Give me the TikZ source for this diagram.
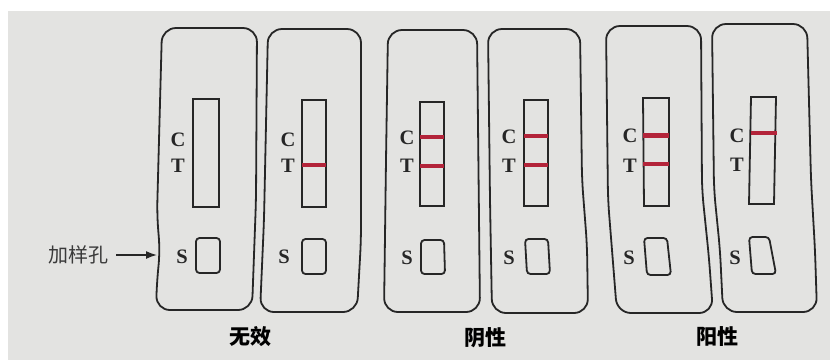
\documentclass[tikz,border=0pt]{standalone}
\usepackage{fontspec}
\setmainfont{Liberation Serif}
\newfontfamily\cjk{Noto Sans CJK SC}
\usetikzlibrary{arrows.meta}
\definecolor{paper}{HTML}{E3E3E1}
\definecolor{ink}{HTML}{262626}
\definecolor{band}{HTML}{B3243A}
\definecolor{softink}{HTML}{3A3A3A}
\begin{document}
\begin{tikzpicture}[x=1pt,y=-1pt,
  case/.style={draw=ink, line width=1.8pt, rounded corners=14pt},
  win/.style={draw=ink, line width=1.8pt},
  hole/.style={draw=ink, line width=1.8pt, rounded corners=3.5pt},
  redband/.style={draw=band, line width=4pt},
  letter/.style={font=\bfseries\fontsize{20.5}{20.5}\selectfont, text=ink, inner sep=0pt},
  grp/.style={font=\cjk\bfseries\fontsize{21}{21}\selectfont, text=black, inner sep=0pt},
  note/.style={font=\cjk\fontsize{20}{20}\selectfont, text=softink, inner sep=0pt},
  pointer/.style={draw=ink, line width=1.5pt, -{Latex[length=11pt,width=8pt]}}]
\fill[white] (0,0) rectangle (830,360);
\fill[paper] (8,11) rectangle (830,360);
\useasboundingbox (0,0) rectangle (830,360);

% cassette outlines
\draw[case] (162,28) -- (257,28) -- (256,200) -- (252,310) -- (156,310) -- (157,280) -- (160,252) -- (157,215) -- cycle;
\draw[case] (268,29) -- (361,29) -- (361,240) -- (357,312) -- (260,312) -- (264,220) -- cycle;
\draw[case] (388,30) -- (477,30) -- (480,312) -- (384,312) -- (386,160) -- cycle;
\draw[case] (488,29) -- (580,29) -- (582,180) -- (587,245) -- (588,313) -- (492,313) -- (490,200) -- cycle;
\draw[case] (606,26) -- (701,26) -- (702,190) -- (709,258) -- (713,313) -- (617,313) -- (612,250) -- (608,200) -- cycle;
\draw[case] (712,24) -- (807,24) -- (811,180) -- (815,250) -- (817,312) -- (723,312) -- (720,250) -- (714,190) -- cycle;

% result windows
\draw[win] (193,99) rectangle (219,207);
\draw[win] (302,100) rectangle (326,207);
\draw[win] (420,102) rectangle (444,206);
\draw[win] (524,100) rectangle (548,206);
\draw[win] (643,98) -- (669,98) -- (669,206) -- (644,206) -- cycle;
\draw[win] (751,97) -- (776,97) -- (774,204) -- (749,204) -- cycle;

% red bands
\draw[redband] (302,165) -- (326,165);
\draw[redband, line width=3.5pt] (420,137) -- (444,137);
\draw[redband] (420,166) -- (444,166);
\draw[redband, line width=3.5pt] (524,136) -- (548,136);
\draw[redband] (524,165) -- (548,165);
\draw[redband, line width=5pt] (643,135) -- (669,135);
\draw[redband] (643,164) -- (669,164);
\draw[redband, line width=4.5pt] (751,133) -- (777,133);

% sample holes
\draw[hole] (196,238) -- (220,238) -- (220,273) -- (196,273) -- cycle;
\draw[hole] (302,239) -- (326,239) -- (326,274) -- (302,274) -- cycle;
\draw[hole] (421,240) -- (444,240) -- (445,274) -- (421,274) -- cycle;
\draw[hole] (525,239) -- (548,239) -- (550,274) -- (527,274) -- cycle;
\draw[hole] (644,238) -- (667,238) -- (671,275) -- (647,275) -- cycle;
\draw[hole] (749,237) -- (769,237) -- (776,274) -- (752,274) -- cycle;

% letters
\node[letter] (c1C) at (178,140) {C};
\node[letter] (c1T) at (178,166) {T};
\node[letter] (c1S) at (182,257) {S};
\node[letter] (c2C) at (288,140) {C};
\node[letter] (c2T) at (288,166) {T};
\node[letter] (c2S) at (284,257) {S};
\node[letter] (c3C) at (407,138) {C};
\node[letter] (c3T) at (407,166) {T};
\node[letter] (c3S) at (407,258) {S};
\node[letter] (c4C) at (509,137) {C};
\node[letter] (c4T) at (509,166) {T};
\node[letter] (c4S) at (509,258) {S};
\node[letter] (c5C) at (630,136) {C};
\node[letter] (c5T) at (630,166) {T};
\node[letter] (c5S) at (629,258) {S};
\node[letter] (c6C) at (737,136) {C};
\node[letter] (c6T) at (737,165) {T};
\node[letter] (c6S) at (735,258) {S};

% group labels
\node[grp] (invalid) at (250,337) {无效};
\node[grp] (negative) at (485,338) {阴性};
\node[grp] (positive) at (717,337) {阳性};

% sample well pointer
\node[note] (addsample) at (78,255) {加样孔};
\coordinate (wellside) at (157,255);
\path (addsample.east) ++(8,0) coordinate (ptstart);
\draw[pointer] (ptstart) -- (wellside);
\end{tikzpicture}
\end{document}
